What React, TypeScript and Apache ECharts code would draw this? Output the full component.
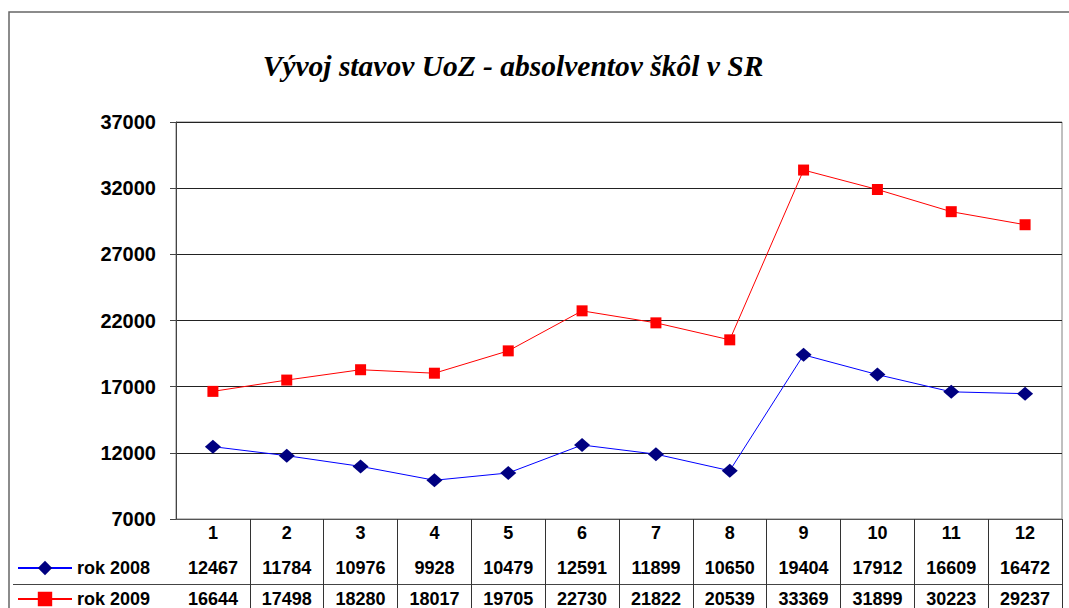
import React, { useEffect, useRef } from "react";
import * as echarts from "echarts";

const categories = ["1", "2", "3", "4", "5", "6", "7", "8", "9", "10", "11", "12"];
const rok2008 = [12467, 11784, 10976, 9928, 10479, 12591, 11899, 10650, 19404, 17912, 16609, 16472];
const rok2009 = [16644, 17498, 18280, 18017, 19705, 22730, 21822, 20539, 33369, 31899, 30223, 29237];
const seriesNames = ["rok 2008", "rok 2009"];
const titleText = "Vývoj stavov UoZ - absolventov škôl v SR";

const SANS = "'Liberation Sans', Arial, sans-serif";
const SERIF = "'Liberation Serif', 'Times New Roman', serif";

export default function App() {
  const ref = useRef<HTMLDivElement>(null);
  useEffect(() => {
    if (!ref.current) return;
    const chart = echarts.init(ref.current, null, { renderer: "svg" });
    const labelBase = { fontFamily: SANS, fontWeight: "bold" as const, fontSize: 18, color: "#000" };
    const tableAxis = (vals: number[], margin: number) => ({
      type: "category" as const,
      data: categories,
      position: "bottom" as const,
      axisLine: { show: false },
      axisTick: { show: false },
      splitLine: { show: false },
      axisLabel: { ...labelBase, interval: 0, margin, formatter: (_v: string, i: number) => String(vals[i]) },
    });
    const legendItem = (name: string, top: number) => ({
      data: [name],
      orient: "horizontal" as const,
      left: 17,
      top,
      padding: 0,
      itemWidth: 54,
      itemHeight: 18,
      textStyle: { ...labelBase },
    });
    chart.setOption({
      animation: false,
      backgroundColor: "#fff",
      title: {
        text: titleText,
        left: 508,
        textAlign: "center",
        top: 46,
        textStyle: { fontFamily: SERIF, fontStyle: "italic", fontWeight: "bold", fontSize: 29.5, color: "#000" },
      },
      grid: {
        left: 176,
        top: 122,
        width: 886,
        height: 399,
        show: true,
        borderColor: "#808080",
        borderWidth: 1,
        backgroundColor: "transparent",
      },
      legend: [legendItem(seriesNames[0], 559), legendItem(seriesNames[1], 590)],
      xAxis: [
        {
          type: "category",
          data: categories,
          position: "bottom",
          boundaryGap: true,
          axisLine: { show: true, lineStyle: { color: "#555", width: 1 } },
          axisTick: {
            show: true,
            length: 95,
            inside: false,
            interval: (i: number) => i !== 0,
            lineStyle: { color: "#333", width: 1 },
          },
          splitLine: { show: false },
          axisLabel: { ...labelBase, interval: 0, margin: 5 },
        },
        tableAxis(rok2008, 40),
        tableAxis(rok2009, 71),
      ],
      yAxis: {
        type: "value",
        min: 7000,
        max: 37000,
        interval: 5000,
        axisLine: { show: true, lineStyle: { color: "#444", width: 1 } },
        axisTick: { show: true, length: 6, lineStyle: { color: "#444" } },
        splitLine: { show: true, lineStyle: { color: "#222", width: 1 } },
        axisLabel: { ...labelBase, fontSize: 20, margin: 20, formatter: (v: number) => String(v) },
      },
      series: [
        {
          name: seriesNames[0],
          type: "line",
          data: rok2008,
          symbol: "diamond",
          symbolSize: [16, 14],
          lineStyle: { color: "#0000FF", width: 1 },
          itemStyle: { color: "#000080" },
        },
        {
          name: seriesNames[1],
          type: "line",
          data: rok2009,
          symbol: "rect",
          symbolSize: 11,
          lineStyle: { color: "#FF0000", width: 1 },
          itemStyle: { color: "#FF0000" },
        },
      ],
      graphic: [
        {
          type: "rect",
          shape: { x: 9, y: 12, width: 1200, height: 800 },
          style: { fill: "none", stroke: "#666", lineWidth: 1.5 },
          silent: true,
        },
        {
          type: "line",
          shape: { x1: 13, y1: 584.5, x2: 1062, y2: 584.5 },
          style: { stroke: "#444", lineWidth: 1 },
          silent: true,
        },
      ],
    });
    return () => chart.dispose();
  }, []);
  return <div ref={ref} style={{ position: "fixed", left: 0, top: 0, width: 1069, height: 608 }} />;
}
